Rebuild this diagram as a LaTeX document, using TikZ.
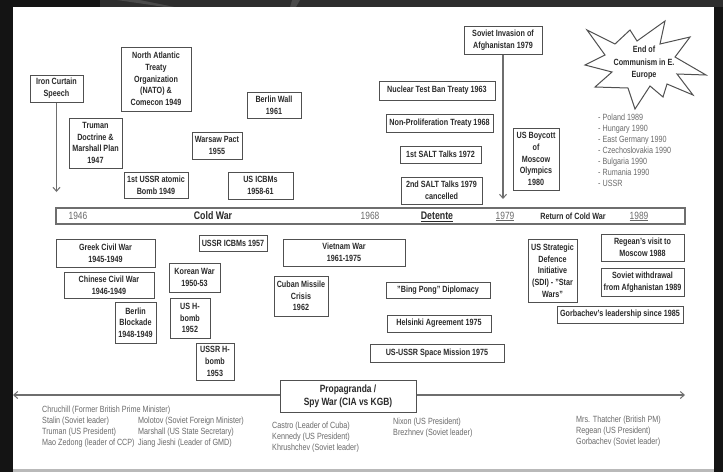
\documentclass[tikz,border=0pt]{standalone}
\usepackage{fontspec}
\setmainfont{Liberation Sans}[FakeStretch=0.8]
\usetikzlibrary{arrows.meta}

\definecolor{framedark}{HTML}{141414}
\definecolor{framemid}{HTML}{2E2E2E}
\definecolor{framelight}{HTML}{4A4A4A}
\definecolor{boxline}{HTML}{505050}
\definecolor{boxtext}{HTML}{2A2A2A}
\definecolor{listtext}{HTML}{6A6A6A}
\definecolor{connline}{HTML}{6E6E6E}

\begin{document}
\begin{tikzpicture}[x=1pt,y=-1pt,
  box/.style={draw=boxline, line width=1pt, fill=white, text=boxtext,
    font=\fontsize{9}{11.7}\selectfont\bfseries, align=center, inner sep=1pt},
  lst/.style={text=listtext, font=\fontsize{9}{11}\selectfont, align=left,
    anchor=west, inner sep=0pt},
  yr/.style={text=listtext, font=\fontsize{10.5}{12}\selectfont, inner sep=0pt},
  era/.style={text=boxtext, font=\fontsize{11}{12}\selectfont\bfseries, inner sep=0pt},
  conn/.style={draw=connline, line width=1.1pt},
  tip/.style={-{Straight Barb[length=4pt,width=7pt,line width=1pt]}}
]
% slide frame
\useasboundingbox (0,0) rectangle (723,472);
\fill[framedark] (0,0) rectangle (723,472);
\fill[framemid] (100,0) rectangle (723,7);
\fill[framelight] (117,0) -- (300,0) -- (296,7) -- (165,7) -- cycle;
\fill[framemid] (140,0) -- (292,0) -- (290,7) -- (175,7) -- cycle;
\fill[white] (13,7) rectangle (714,469);
\fill[gray!55] (13,469) rectangle (714,472);

% upper events
\node[box, minimum width=53pt, minimum height=27pt] (iron) at (56.5,88.5) {Iron Curtain\\Speech};
\node[box, minimum width=70pt, minimum height=64pt] (nato) at (156,79) {North Atlantic\\Treaty\\Organization\\(NATO) \&\\Comecon 1949};
\node[box, minimum width=53pt, minimum height=50pt] (truman) at (95.5,143) {Truman\\Doctrine \&\\Marshall Plan\\1947};
\node[box, minimum width=50pt, minimum height=27pt] (warsaw) at (217,145.5) {Warsaw Pact\\1955};
\node[box, minimum width=64pt, minimum height=26pt] (atomic) at (156,185) {1st USSR atomic\\Bomb 1949};
\node[box, minimum width=65pt, minimum height=27pt] (usicbm) at (260.5,185.5) {US ICBMs\\1958-61};
\node[box, minimum width=54pt, minimum height=26pt] (wall) at (274,105) {Berlin Wall\\1961};
\node[box, minimum width=78pt, minimum height=28pt] (afghan) at (503,40) {Soviet Invasion of\\Afghanistan 1979};
\node[box, minimum width=116pt, minimum height=19pt] (testban) at (437,90.5) {Nuclear Test Ban Treaty 1963};
\node[box, minimum width=107pt, minimum height=18pt] (nonprolif) at (439.5,123) {Non-Proliferation Treaty 1968};
\node[box, minimum width=81pt, minimum height=17pt] (saltone) at (440.5,154.5) {1st SALT Talks 1972};
\node[box, minimum width=81pt, minimum height=27pt] (salttwo) at (441.5,190.5) {2nd SALT Talks 1979\\cancelled};
\node[box, minimum width=46pt, minimum height=62pt] (boycott) at (536,159) {US Boycott\\of\\Moscow\\Olympics\\1980};

% explosion with the end of communism
\draw[draw=boxline, line width=1pt, fill=white, line join=miter]
  (587,30) -- (615,44) -- (630,30) -- (637,41) -- (665,21) -- (660,44)
  -- (690,37) -- (675,57) -- (706,75) -- (677,74) -- (693,95) -- (667,84)
  -- (663,97) -- (650,86) -- (635,109) -- (628,88) -- (595,87) -- (612,72)
  -- (585,65) -- (605,55) -- cycle;
\node[text=boxtext, font=\fontsize{9}{12.5}\selectfont\bfseries, align=center, inner sep=0pt] (eoc) at (644,63) {End of\\Communism in E.\\Europe};
\node[lst] (eelist) at (598,150) {- Poland 1989\\- Hungary 1990\\- East Germany 1990\\- Czechoslovakia 1990\\- Bulgaria 1990\\- Rumania 1990\\- USSR};

% timeline bar
\node[draw=connline, line width=1.1pt, fill=white, minimum width=629pt, minimum height=16pt, inner sep=0pt] (bar) at (370.5,216) {};
\node[yr] (ya) at (78,216) {1946};
\node[era] (cw) at (213,216) {Cold War};
\node[yr] (yb) at (370,216) {1968};
\node[era] (det) at (437,216.5) {\underline{Detente}};
\node[yr] (yc) at (505,216.5) {\underline{1979}};
\node[text=boxtext, font=\fontsize{9}{11}\selectfont\bfseries, inner sep=0pt] (rcw) at (573,216) {Return of Cold War};
\node[yr] (yd) at (639,216.5) {\underline{1989}};

% arrows onto the bar
\coordinate (ironend) at (56.5,192);
\coordinate (afghanend) at (503,199);
\draw[conn, tip] (iron) -- (ironend);
\draw[conn, tip] (afghan) -- (afghanend);

% lower events
\node[box, minimum width=99pt, minimum height=28pt] (greek) at (105.5,253) {Greek Civil War\\1945-1949};
\node[box, minimum width=90pt, minimum height=26pt] (chinese) at (109,285) {Chinese Civil War\\1946-1949};
\node[box, minimum width=41pt, minimum height=41pt] (blockade) at (135.5,322.5) {Berlin\\Blockade\\1948-1949};
\node[box, minimum width=51pt, minimum height=29pt] (korea) at (194.5,277.5) {Korean War\\1950-53};
\node[box, minimum width=40pt, minimum height=40pt] (ushb) at (190,318) {US H-\\bomb\\1952};
\node[box, minimum width=38pt, minimum height=37pt] (ussrhb) at (215,361.5) {USSR H-\\bomb\\1953};
\node[box, minimum width=68pt, minimum height=16pt] (ussricbm) at (233,243) {USSR ICBMs 1957};
\node[box, minimum width=122pt, minimum height=27pt] (vietnam) at (344,252.5) {Vietnam War\\1961-1975};
\node[box, minimum width=54pt, minimum height=40pt] (cuba) at (301,296) {Cuban Missile\\Crisis\\1962};
\node[box, minimum width=104pt, minimum height=16pt] (pingpong) at (438,290) {"Bing Pong" Diplomacy};
\node[box, minimum width=104pt, minimum height=17pt] (helsinki) at (439,323.5) {Helsinki Agreement 1975};
\node[box, minimum width=134pt, minimum height=18pt] (space) at (437,353) {US-USSR Space Mission 1975};
\node[box, minimum width=49pt, minimum height=63pt] (sdi) at (552.5,270.5) {US Strategic\\Defence\\Initiative\\(SDI) - "Star\\Wars"};
\node[box, minimum width=83pt, minimum height=27pt] (reagan) at (642.5,247.5) {Regean's visit to\\Moscow 1988};
\node[box, minimum width=83pt, minimum height=28pt] (withdraw) at (642.5,282) {Soviet withdrawal\\from Afghanistan 1989};
\node[box, minimum width=126pt, minimum height=17pt] (gorby) at (620,314.5) {Gorbachev's leadership since 1985};

% propaganda line
\node[box, font=\fontsize{10.5}{13}\selectfont\bfseries, minimum width=136pt, minimum height=32pt] (prop) at (348,396) {Propagranda /\\Spy War (CIA vs KGB)};
\coordinate (propleft) at (13,395);
\coordinate (propright) at (685,395);
\draw[conn, tip] (prop.west |- propleft) -- (propleft);
\draw[conn, tip] (prop.east |- propright) -- (propright);

% leaders
\node[lst] (leadersa) at (42,426.5) {Chruchill (Former British Prime Minister)\\Stalin (Soviet leader)\\Truman (US President)\\Mao Zedong (leader of CCP)};
\node[lst] (leadersb) at (138,432) {Molotov (Soviet Foreign Minister)\\Marshall (US State Secretary)\\Jiang Jieshi (Leader of GMD)};
\node[lst] (leadersc) at (272,437) {Castro (Leader of Cuba)\\Kennedy (US President)\\Khrushchev (Soviet leader)};
\node[lst] (leadersd) at (393,427.5) {Nixon (US President)\\Brezhnev (Soviet leader)};
\node[lst] (leaderse) at (576,431) {Mrs. Thatcher (British PM)\\Regean (US President)\\Gorbachev (Soviet leader)};
\end{tikzpicture}
\end{document}
